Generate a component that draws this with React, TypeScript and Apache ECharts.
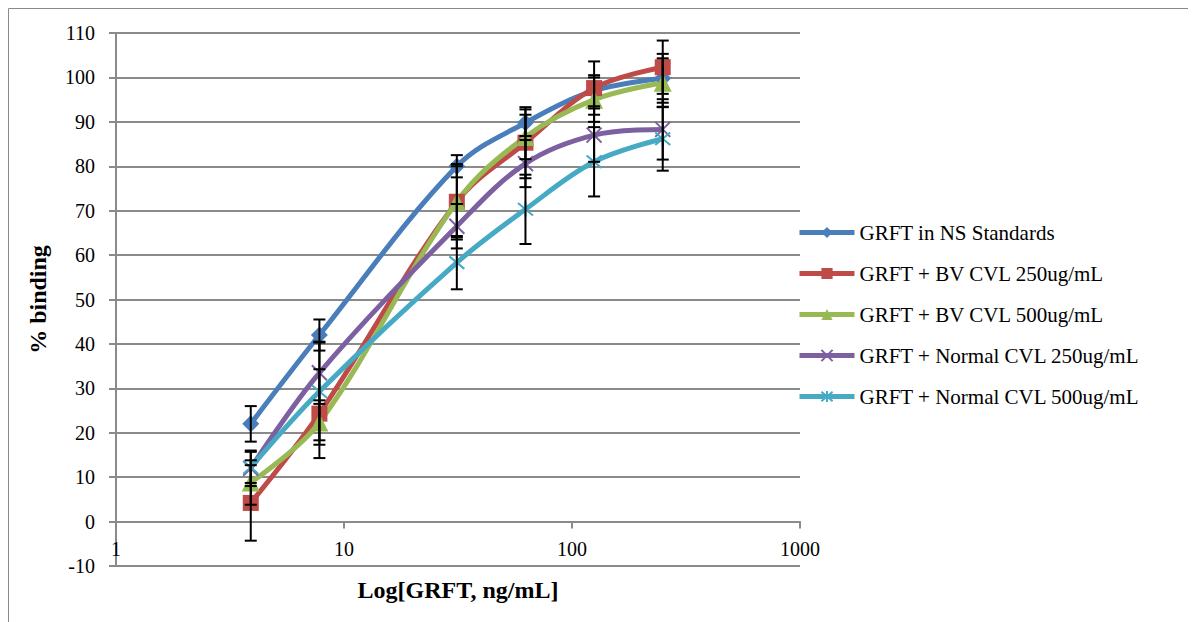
import React, { useEffect, useRef } from "react";
import * as echarts from "echarts";

const xValues = [3.9, 7.8, 31.25, 62.5, 125, 250];
const seriesNames = [
  "GRFT in NS Standards",
  "GRFT + BV CVL 250ug/mL",
  "GRFT + BV CVL 500ug/mL",
  "GRFT + Normal CVL 250ug/mL",
  "GRFT + Normal CVL 500ug/mL",
];
const nsStandards = [22, 42, 80, 89.8, 97, 99.8];
const bv250 = [4.2, 24.3, 72, 85.3, 97.6, 102.3];
const bv500 = [8.8, 22.3, 72, 86.6, 95, 98.8];
const normal250 = [12, 33.5, 66.5, 80.6, 87, 88.3];
const normal500 = [12.2, 29.3, 58.3, 70.3, 81, 86.2];
const nsErr = [4, 3.5, 2.5, 3, 3.5, 5.5];
const bv250Err = [8.5, 10, 8, 8, 6, 6];
const bv500Err = [5, 5, 8.5, 5, 5, 5.5];
const normal250Err = [4, 7, 5, 5.3, 6, 6.8];
const normal500Err = [3.5, 11, 6, 7.8, 7.8, 7.2];
const yTicks = { min: -10, max: 110, interval: 10 };

const colors = ["#4A7EBB", "#BE4B48", "#98B954", "#7D60A0", "#46AAC5"];
const symbols = [
  "diamond",
  "rect",
  "triangle",
  "path://M0 0L10 10M10 0L0 10",
  "path://M0 0L10 10M10 0L0 10M5 -1L5 11",
];
const symbolSizes = [17, 16, 18, 15, 15];

export default function App() {
  const ref = useRef<HTMLDivElement>(null);
  useEffect(() => {
    if (!ref.current) return;
    const chart = echarts.init(ref.current, undefined, { renderer: "svg" });
    const values = [nsStandards, bv250, bv500, normal250, normal500];
    const errs = [nsErr, bv250Err, bv500Err, normal250Err, normal500Err];
    const font = "'Liberation Serif', 'Times New Roman', serif";

    const lineSeries: any[] = values.map((vals, i) => {
      const isPath = i >= 3;
      return {
        name: seriesNames[i],
        type: "line",
        data: xValues.map((x, j) => [x, vals[j]]),
        smooth: 0.35,
        symbol: symbols[i],
        symbolSize: symbolSizes[i],
        showAllSymbol: true,
        z: 3,
        lineStyle: { color: colors[i], width: 5 },
        itemStyle: isPath
          ? { color: colors[i], borderColor: colors[i], borderWidth: 2 }
          : { color: colors[i], borderWidth: 0 },
      };
    });

    const errSeries: any[] = values.map((vals, i) => ({
      name: seriesNames[i] + " err",
      type: "custom",
      z: 4,
      silent: true,
      data: xValues.map((x, j) => [x, vals[j] - errs[i][j], vals[j] + errs[i][j]]),
      renderItem: (params: any, api: any) => {
        const x = api.value(0);
        const lo = api.coord([x, api.value(1)]);
        const hi = api.coord([x, api.value(2)]);
        const style = { stroke: "#000", lineWidth: 2 };
        const hw = 6;
        return {
          type: "group",
          children: [
            { type: "line", shape: { x1: lo[0], y1: lo[1], x2: hi[0], y2: hi[1] }, style },
            { type: "line", shape: { x1: lo[0] - hw, y1: lo[1], x2: lo[0] + hw, y2: lo[1] }, style },
            { type: "line", shape: { x1: hi[0] - hw, y1: hi[1], x2: hi[0] + hw, y2: hi[1] }, style },
          ],
        };
      },
    }));

    chart.setOption({
      animation: false,
      textStyle: { fontFamily: font, color: "#000" },
      graphic: [
        {
          type: "polyline",
          shape: { points: [[0.5, 614], [0.5, 0.5], [1188, 0.5]] },
          style: { stroke: "#8a8a8a", lineWidth: 1, fill: "none" },
        },
      ],
      grid: { left: 108, right: 396, top: 25, bottom: 56, outerBoundsMode: "none", containLabel: false },
      legend: {
        data: seriesNames,
        orient: "vertical",
        left: 784,
        top: 209,
        itemWidth: 55,
        itemHeight: 14,
        itemGap: 20,
        lineStyle: { width: 5 },
        textStyle: { fontFamily: font, fontSize: 21, color: "#000" },
      },
      xAxis: {
        type: "log",
        logBase: 10,
        min: 1,
        max: 1000,
        name: "Log[GRFT, ng/mL]",
        nameLocation: "middle",
        nameGap: 12,
        nameTextStyle: { fontFamily: font, fontSize: 24, fontWeight: "bold", color: "#000" },
        axisLine: { onZero: true, lineStyle: { color: "#8a8a8a", width: 2 } },
        axisTick: { show: true, length: 7, lineStyle: { color: "#8a8a8a", width: 2 } },
        minorTick: { show: false },
        axisLabel: {
          fontFamily: font,
          fontSize: 20,
          color: "#000",
          margin: -27,
          showMinLabel: true,
          showMaxLabel: true,
          formatter: (v: number) => String(Math.round(v)),
        },
        splitLine: { show: false },
      },
      yAxis: {
        type: "value",
        min: yTicks.min,
        max: yTicks.max,
        interval: yTicks.interval,
        name: "% binding",
        nameLocation: "middle",
        nameGap: 66,
        nameTextStyle: { fontFamily: font, fontSize: 24, fontWeight: "bold", color: "#000" },
        axisLine: { show: true, onZero: false, lineStyle: { color: "#8a8a8a", width: 2 } },
        axisTick: { show: true, length: 7, lineStyle: { color: "#8a8a8a", width: 2 } },
        axisLabel: { fontFamily: font, fontSize: 20, color: "#000", margin: 21 },
        splitLine: { show: true, lineStyle: { color: "#8a8a8a", width: 2 } },
      },
      series: [...errSeries, ...lineSeries],
    });
    return () => chart.dispose();
  }, []);
  return <div ref={ref} style={{ width: 1188, height: 614 }} />;
}
